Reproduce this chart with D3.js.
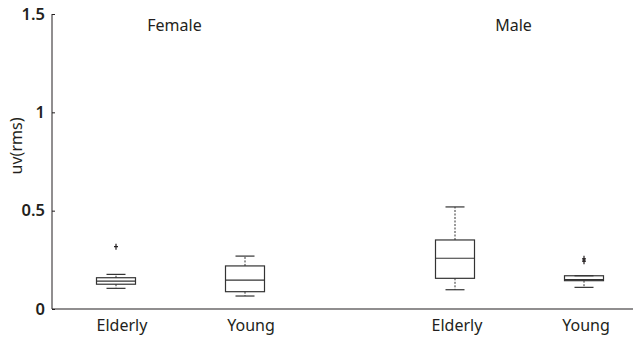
<!DOCTYPE html>
<html>
<head>
<meta charset="utf-8">
<script src="https://cdn.jsdelivr.net/npm/d3@7"></script>
<style>
  html, body { margin: 0; padding: 0; background: #fff; }
  svg { display: block; }
  text { font-family: "Noto Sans", "Liberation Sans", sans-serif; fill: #231f20; }
</style>
</head>
<body>
<svg id="chart" width="636" height="337"></svg>
<script>
// Groups and conditions
const groups = ["Female", "Male"];
const conditions = ["Elderly", "Young"];

// Five-number summaries per group/condition: [lower whisker, Q1, median, Q3, upper whisker]
const femaleStats = [
  [0.105, 0.126, 0.142, 0.159, 0.176],
  [0.066, 0.088, 0.147, 0.219, 0.269]
];
const maleStats = [
  [0.098, 0.156, 0.258, 0.351, 0.519],
  [0.110, 0.144, 0.149, 0.169, 0.169]
];

// Outliers per group/condition
const femaleOutliers = [[0.317], []];
const maleOutliers = [[], [0.255, 0.243]];

// Y-axis ticks
const yTicks = [0, 0.5, 1, 1.5];
const yLabel = "uv(rms)";

const statsByGroup = { Female: femaleStats, Male: maleStats };
const outliersByGroup = { Female: femaleOutliers, Male: maleOutliers };

const boxes = [];
groups.forEach(g => {
  conditions.forEach((c, i) => {
    const s = statsByGroup[g][i];
    boxes.push({
      group: g, cond: c,
      lo: s[0], q1: s[1], med: s[2], q3: s[3], hi: s[4],
      outliers: outliersByGroup[g][i]
    });
  });
});

const svg = d3.select("#chart");
const plotLeft = 52, plotRight = 633, plotTop = 14, plotBottom = 309;
const ink = "#231f20";

const y = d3.scaleLinear().domain([0, 1.5]).range([plotBottom, plotTop]);
const gx = d3.scalePoint().domain(groups).range([180.5, 519.5]);
const cx = d3.scalePoint().domain(conditions).range([-64.5, 64.5]);
const xOf = d => gx(d.group) + cx(d.cond);

const boxW = 39, capW = 19;

// Y axis
const yAxis = svg.append("g")
  .attr("transform", `translate(${plotLeft},0)`)
  .call(d3.axisLeft(y).tickValues(yTicks).tickSize(-3).tickPadding(7)
    .tickFormat(d3.format("")));
yAxis.select(".domain").attr("stroke", ink).attr("d", `M0,${plotTop}V${plotBottom}`);
yAxis.selectAll(".tick line").attr("stroke", ink);
yAxis.selectAll(".tick text")
  .style("font-size", "16.5px").style("font-weight", "600")
  .attr("fill", ink);

// X baseline
svg.append("line")
  .attr("x1", plotLeft).attr("x2", plotRight)
  .attr("y1", plotBottom).attr("y2", plotBottom)
  .attr("stroke", ink).attr("stroke-width", 1.2);

// Category labels under each box
svg.append("g").selectAll("text")
  .data(boxes).join("text")
  .attr("x", d => xOf(d) + (d.group === "Female" ? 6 : 2))
  .attr("y", 331)
  .attr("text-anchor", "middle")
  .style("font-size", "16px")
  .text(d => d.cond);

// Group titles
svg.append("g").selectAll("text")
  .data(groups).join("text")
  .attr("x", d => gx(d) - 6)
  .attr("y", 31)
  .attr("text-anchor", "middle")
  .style("font-size", "16px")
  .text(d => d);

// Y label
svg.append("text")
  .attr("transform", "translate(22,146) rotate(-90)")
  .attr("text-anchor", "middle")
  .style("font-size", "16px")
  .text(yLabel);

// Boxes
const bg = svg.append("g").selectAll("g")
  .data(boxes).join("g")
  .attr("transform", d => `translate(${xOf(d)},0)`);

const boxStroke = "#333";

// dotted whiskers
bg.append("line")
  .attr("x1", 0).attr("x2", 0)
  .attr("y1", d => y(d.q3)).attr("y2", d => y(d.hi))
  .attr("stroke", boxStroke).attr("stroke-width", 1)
  .attr("stroke-dasharray", "2,1.5");
bg.append("line")
  .attr("x1", 0).attr("x2", 0)
  .attr("y1", d => y(d.q1)).attr("y2", d => y(d.lo))
  .attr("stroke", boxStroke).attr("stroke-width", 1)
  .attr("stroke-dasharray", "2,1.5");

// whisker caps
bg.append("line")
  .attr("x1", -capW / 2).attr("x2", capW / 2)
  .attr("y1", d => y(d.hi)).attr("y2", d => y(d.hi))
  .attr("stroke", boxStroke).attr("stroke-width", 1.2);
bg.append("line")
  .attr("x1", -capW / 2).attr("x2", capW / 2)
  .attr("y1", d => y(d.lo)).attr("y2", d => y(d.lo))
  .attr("stroke", boxStroke).attr("stroke-width", 1.2);

// box
bg.append("rect")
  .attr("x", -boxW / 2).attr("width", boxW)
  .attr("y", d => y(d.q3)).attr("height", d => y(d.q1) - y(d.q3))
  .attr("fill", "none").attr("stroke", boxStroke).attr("stroke-width", 1.2);

// median
bg.append("line")
  .attr("x1", -boxW / 2).attr("x2", boxW / 2)
  .attr("y1", d => y(d.med)).attr("y2", d => y(d.med))
  .attr("stroke", boxStroke).attr("stroke-width", 1.2);

// outliers as "+" markers
bg.each(function(d) {
  d3.select(this).selectAll("path.out")
    .data(d.outliers).join("path")
    .attr("class", "out")
    .attr("d", v => `M-2,${y(v)}H2M0,${y(v) - 3}V${y(v) + 3}`)
    .attr("stroke", ink).attr("stroke-width", 1.2);
});
</script>
</body>
</html>
